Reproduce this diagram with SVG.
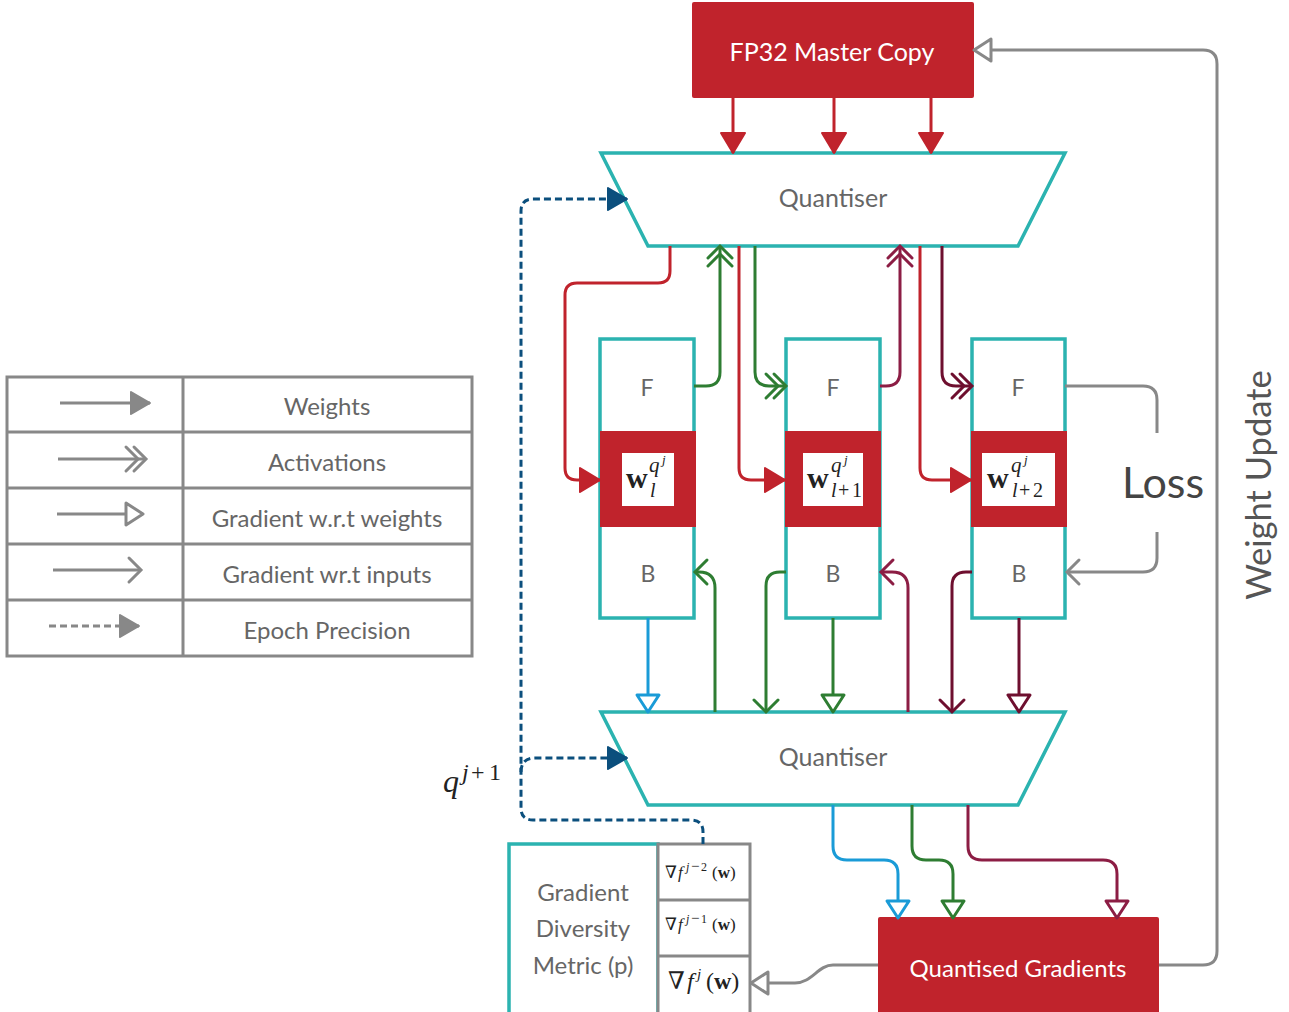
<svg xmlns="http://www.w3.org/2000/svg" width="1289" height="1012" viewBox="0 0 1289 1012">
<style>
.c{fill:none;stroke-width:3;stroke-linecap:butt;stroke-linejoin:round}
.red{stroke:#c0232c}.green{stroke:#2e7d32}.mar{stroke:#8c1d44}.dmar{stroke:#6e0f2f}.blue{stroke:#1a9bd7}.navy{stroke:#0b4f7d}.gray{stroke:#888}
.dash{stroke-dasharray:7 4}
.teal{fill:#fff;stroke:#2bb3b0;stroke-width:3.5}
.rbox{fill:#c0232c}
.t{font-family:Lato,'Liberation Sans',sans-serif;fill:#666;text-anchor:middle}
.w{fill:#fff}
.m{font-family:'Liberation Serif','DejaVu Serif',serif;fill:#222}
.i{font-style:italic}
.b{font-weight:bold}
.cell{fill:#fff;stroke:#888;stroke-width:3}
</style>
<defs>
<marker id="ft-red" viewBox="-22 -14 24 28" markerWidth="24" markerHeight="28" refX="0" refY="0" orient="auto" markerUnits="userSpaceOnUse" overflow="visible"><path d="M-20,-12 L0,0 L-20,12 z" fill="#c0232c" stroke="#c0232c" stroke-width="2" stroke-linejoin="round"/></marker>
<marker id="ft-navy" viewBox="-22 -14 24 28" markerWidth="24" markerHeight="28" refX="0" refY="0" orient="auto" markerUnits="userSpaceOnUse" overflow="visible"><path d="M-19,-11 L0,0 L-19,11 z" fill="#0b4f7d" stroke="#0b4f7d" stroke-width="2" stroke-linejoin="round"/></marker>
<marker id="ft-gray" viewBox="-22 -14 24 28" markerWidth="24" markerHeight="28" refX="0" refY="0" orient="auto" markerUnits="userSpaceOnUse" overflow="visible"><path d="M-19,-11 L0,0 L-19,11 z" fill="#888" stroke="#888" stroke-width="2" stroke-linejoin="round"/></marker>
<marker id="dc-green" viewBox="-24 -14 26 28" markerWidth="26" markerHeight="28" refX="0" refY="0" orient="auto" markerUnits="userSpaceOnUse" overflow="visible"><path d="M-12,-12 L0,0 L-12,12 M-20,-12 L-8,0 L-20,12" fill="none" stroke="#2e7d32" stroke-width="3" stroke-linecap="round"/></marker>
<marker id="dc-mar" viewBox="-24 -14 26 28" markerWidth="26" markerHeight="28" refX="0" refY="0" orient="auto" markerUnits="userSpaceOnUse" overflow="visible"><path d="M-12,-12 L0,0 L-12,12 M-20,-12 L-8,0 L-20,12" fill="none" stroke="#8c1d44" stroke-width="3" stroke-linecap="round"/></marker>
<marker id="dc-dmar" viewBox="-24 -14 26 28" markerWidth="26" markerHeight="28" refX="0" refY="0" orient="auto" markerUnits="userSpaceOnUse" overflow="visible"><path d="M-12,-12 L0,0 L-12,12 M-20,-12 L-8,0 L-20,12" fill="none" stroke="#6e0f2f" stroke-width="3" stroke-linecap="round"/></marker>
<marker id="dc-gray" viewBox="-24 -14 26 28" markerWidth="26" markerHeight="28" refX="0" refY="0" orient="auto" markerUnits="userSpaceOnUse" overflow="visible"><path d="M-12,-12 L0,0 L-12,12 M-20,-12 L-8,0 L-20,12" fill="none" stroke="#888" stroke-width="3" stroke-linecap="round"/></marker>
<marker id="ot-blue" viewBox="-20 -13 22 26" markerWidth="22" markerHeight="26" refX="0" refY="0" orient="auto" markerUnits="userSpaceOnUse" overflow="visible"><path d="M-17,-11 L0,0 L-17,11 z" fill="#fff" stroke="#1a9bd7" stroke-width="3" stroke-linejoin="round"/></marker>
<marker id="ot-green" viewBox="-20 -13 22 26" markerWidth="22" markerHeight="26" refX="0" refY="0" orient="auto" markerUnits="userSpaceOnUse" overflow="visible"><path d="M-17,-11 L0,0 L-17,11 z" fill="#fff" stroke="#2e7d32" stroke-width="3" stroke-linejoin="round"/></marker>
<marker id="ot-mar" viewBox="-20 -13 22 26" markerWidth="22" markerHeight="26" refX="0" refY="0" orient="auto" markerUnits="userSpaceOnUse" overflow="visible"><path d="M-17,-11 L0,0 L-17,11 z" fill="#fff" stroke="#8c1d44" stroke-width="3" stroke-linejoin="round"/></marker>
<marker id="ot-dmar" viewBox="-20 -13 22 26" markerWidth="22" markerHeight="26" refX="0" refY="0" orient="auto" markerUnits="userSpaceOnUse" overflow="visible"><path d="M-17,-11 L0,0 L-17,11 z" fill="#fff" stroke="#6e0f2f" stroke-width="3" stroke-linejoin="round"/></marker>
<marker id="ot-gray" viewBox="-20 -13 22 26" markerWidth="22" markerHeight="26" refX="0" refY="0" orient="auto" markerUnits="userSpaceOnUse" overflow="visible"><path d="M-17,-11 L0,0 L-17,11 z" fill="#fff" stroke="#888" stroke-width="3" stroke-linejoin="round"/></marker>
<marker id="ch-green" viewBox="-15 -15 17 30" markerWidth="17" markerHeight="30" refX="0" refY="0" orient="auto" markerUnits="userSpaceOnUse" overflow="visible"><path d="M-12,-12 L0,0 L-12,12" fill="none" stroke="#2e7d32" stroke-width="3" stroke-linecap="round"/></marker>
<marker id="ch-mar" viewBox="-15 -15 17 30" markerWidth="17" markerHeight="30" refX="0" refY="0" orient="auto" markerUnits="userSpaceOnUse" overflow="visible"><path d="M-12,-12 L0,0 L-12,12" fill="none" stroke="#8c1d44" stroke-width="3" stroke-linecap="round"/></marker>
<marker id="ch-dmar" viewBox="-15 -15 17 30" markerWidth="17" markerHeight="30" refX="0" refY="0" orient="auto" markerUnits="userSpaceOnUse" overflow="visible"><path d="M-12,-12 L0,0 L-12,12" fill="none" stroke="#6e0f2f" stroke-width="3" stroke-linecap="round"/></marker>
<marker id="ch-gray" viewBox="-15 -15 17 30" markerWidth="17" markerHeight="30" refX="0" refY="0" orient="auto" markerUnits="userSpaceOnUse" overflow="visible"><path d="M-12,-12 L0,0 L-12,12" fill="none" stroke="#888" stroke-width="3" stroke-linecap="round"/></marker>
</defs>
<rect width="1289" height="1012" fill="#fff"/>

<g id="legend">
<rect x="7" y="377" width="465" height="279" fill="#fff" stroke="#888" stroke-width="3"/>
<path d="M183,377 V656 M7,432 H472 M7,488 H472 M7,544 H472 M7,600 H472" stroke="#888" stroke-width="3" fill="none"/>
<path class="c gray" d="M60,403 H150" marker-end="url(#ft-gray)"/>
<path class="c gray" d="M58,459 H146" marker-end="url(#dc-gray)"/>
<path class="c gray" d="M57,514 H143" marker-end="url(#ot-gray)"/>
<path class="c gray" d="M53,570 H141" marker-end="url(#ch-gray)"/>
<path class="c gray dash" d="M49,626 H139" marker-end="url(#ft-gray)"/>
<g class="t" font-size="24" fill="#5a5a5a">
<text x="327" y="415">Weights</text>
<text x="327" y="471">Activations</text>
<text x="327" y="527">Gradient w.r.t weights</text>
<text x="327" y="583">Gradient wr.t inputs</text>
<text x="327" y="639">Epoch Precision</text>
</g>
</g>

<g id="fp32">
<rect class="rbox" x="692" y="2" width="282" height="96" rx="2"/>
<text class="t w" x="832" y="61" font-size="25">FP32 Master Copy</text>
</g>

<g id="quantiser-top">
<polygon class="teal" points="601,153 1065,153 1018,246 648,246"/>
<text class="t" x="833" y="207" font-size="25">Quantiser</text>
</g>

<g id="quantiser-bottom">
<polygon class="teal" points="601,712 1065,712 1018,805 648,805"/>
<text class="t" x="833" y="766" font-size="25">Quantiser</text>
</g>

<g id="layer1">
<rect class="teal" x="600" y="339" width="94" height="279"/>
<text class="t" x="647" y="396" font-size="23">F</text>
<text class="t" x="648" y="582" font-size="23">B</text>
<rect class="rbox" x="600" y="431" width="96" height="96"/>
<rect fill="#fff" x="622" y="453" width="52" height="53"/>
<text class="m b" font-size="30" x="626" y="488">w</text>
<text class="m i" font-size="21" x="649" y="472">q</text>
<text class="m i" font-size="13" x="662" y="464">j</text>
<text class="m i" font-size="20" x="650" y="497">l</text>
</g>

<g id="layer2">
<rect class="teal" x="786" y="339" width="94" height="279"/>
<text class="t" x="833" y="396" font-size="23">F</text>
<text class="t" x="833" y="582" font-size="23">B</text>
<rect class="rbox" x="785" y="431" width="96" height="96"/>
<rect fill="#fff" x="803" y="453" width="60" height="53"/>
<text class="m b" font-size="30" x="807" y="488">w</text>
<text class="m i" font-size="21" x="831" y="472">q</text>
<text class="m i" font-size="13" x="844" y="464">j</text>
<text class="m" font-size="20" y="497"><tspan class="i" x="831">l</tspan><tspan x="838">+</tspan><tspan x="852">1</tspan></text>
</g>

<g id="layer3">
<rect class="teal" x="972" y="339" width="93" height="279"/>
<text class="t" x="1018" y="396" font-size="23">F</text>
<text class="t" x="1019" y="582" font-size="23">B</text>
<rect class="rbox" x="971" y="431" width="96" height="96"/>
<rect fill="#fff" x="982" y="453" width="73" height="53"/>
<text class="m b" font-size="30" x="987" y="488">w</text>
<text class="m i" font-size="21" x="1011" y="472">q</text>
<text class="m i" font-size="13" x="1024" y="464">j</text>
<text class="m" font-size="20" y="497"><tspan class="i" x="1012">l</tspan><tspan x="1019">+</tspan><tspan x="1033">2</tspan></text>
</g>

<g id="loss">
<text x="1163" y="498" font-family="Lato,'Liberation Sans',sans-serif" font-size="43" fill="#444" text-anchor="middle">Loss</text>
</g>

<g id="weight-update-label">
<text transform="translate(1271,485) rotate(-90)" font-family="Lato,'Liberation Sans',sans-serif" font-size="34.5" fill="#555" text-anchor="middle">Weight Update</text>
</g>

<g id="quantised-gradients">
<rect class="rbox" x="878" y="917" width="281" height="100" rx="2"/>
<text class="t w" x="1018" y="977" font-size="24">Quantised Gradients</text>
</g>

<g id="gradient-diversity">
<rect x="509" y="844" width="149" height="172" fill="#fff" stroke="#2bb3b0" stroke-width="3.5"/>
<g class="t" font-size="24" fill="#666">
<text x="583" y="901">Gradient</text>
<text x="583" y="937">Diversity</text>
<text x="583" y="974">Metric (p)</text>
</g>
</g>

<g id="gradient-history">
<rect class="cell" x="658" y="844" width="92" height="172"/>
<path d="M658,900 H750 M658,956 H750" stroke="#888" stroke-width="3"/>
<text class="m" font-size="17"><tspan x="665" y="878">∇</tspan><tspan class="i" x="678" y="878">f</tspan><tspan class="i" font-size="12" x="686" y="871">j</tspan><tspan font-size="15" x="691" y="871">−</tspan><tspan font-size="12" x="701" y="871">2</tspan><tspan x="712" y="878">(</tspan><tspan class="b">w</tspan><tspan>)</tspan></text>
<text class="m" font-size="17"><tspan x="665" y="930">∇</tspan><tspan class="i" x="678" y="930">f</tspan><tspan class="i" font-size="12" x="686" y="923">j</tspan><tspan font-size="15" x="691" y="923">−</tspan><tspan font-size="12" x="701" y="923">1</tspan><tspan x="712" y="930">(</tspan><tspan class="b">w</tspan><tspan>)</tspan></text>
<text class="m" font-size="24"><tspan x="668" y="989">∇</tspan><tspan class="i" x="687" y="989">f</tspan><tspan class="i" font-size="15" x="697" y="979">j</tspan><tspan x="706" y="989">(</tspan><tspan class="b">w</tspan><tspan>)</tspan></text>
</g>

<g id="q-label">
<text class="m i" x="443" y="792" font-size="32">q</text>
<text class="m" font-size="24" y="780"><tspan class="i" x="462">j</tspan><tspan x="471">+</tspan><tspan x="489">1</tspan></text>
</g>

<g id="connectors">
<path class="c red" d="M733,98 V153" marker-end="url(#ft-red)"/>
<path class="c red" d="M834,98 V153" marker-end="url(#ft-red)"/>
<path class="c red" d="M931,98 V153" marker-end="url(#ft-red)"/>
<path class="c red" d="M670,246 V271 Q670,283 658,283 H577 Q565,283 565,295 V468 Q565,480 577,480 H600" marker-end="url(#ft-red)"/>
<path class="c red" d="M739,246 V468 Q739,480 751,480 H785" marker-end="url(#ft-red)"/>
<path class="c red" d="M920,246 V468 Q920,480 932,480 H971" marker-end="url(#ft-red)"/>
<path class="c green" d="M694,386 H706 Q720,386 720,372 V246" marker-end="url(#dc-green)"/>
<path class="c green" d="M755,246 V372 Q755,386 769,386 H786" marker-end="url(#dc-green)"/>
<path class="c mar" d="M880,386 H886 Q900,386 900,372 V246" marker-end="url(#dc-mar)"/>
<path class="c dmar" d="M942,246 V372 Q942,386 956,386 H972" marker-end="url(#dc-dmar)"/>
<path class="c gray" d="M1065,386 H1143 Q1157,386 1157,400 V433"/>
<path class="c gray" d="M1157,532 V558 Q1157,572 1143,572 H1067" marker-end="url(#ch-gray)"/>
<path class="c blue" d="M648,618 V712" marker-end="url(#ot-blue)"/>
<path class="c green" d="M715,712 V588 Q715,572 699,572 H695" marker-end="url(#ch-green)"/>
<path class="c green" d="M786,572 H780 Q766,572 766,586 V712" marker-end="url(#ch-green)"/>
<path class="c green" d="M833,618 V712" marker-end="url(#ot-green)"/>
<path class="c mar" d="M908,712 V588 Q908,572 892,572 H881" marker-end="url(#ch-mar)"/>
<path class="c dmar" d="M972,572 H966 Q952,572 952,586 V712" marker-end="url(#ch-dmar)"/>
<path class="c dmar" d="M1019,618 V712" marker-end="url(#ot-dmar)"/>
<path class="c blue" d="M833,805 V846 Q833,860 847,860 H884 Q898,860 898,874 V918" marker-end="url(#ot-blue)"/>
<path class="c green" d="M912,805 V846 Q912,860 926,860 H939 Q953,860 953,874 V918" marker-end="url(#ot-green)"/>
<path class="c mar" d="M968,805 V846 Q968,860 982,860 H1103 Q1117,860 1117,874 V918" marker-end="url(#ot-mar)"/>
<path class="c gray" d="M1159,965 H1203 Q1217,965 1217,951 V64 Q1217,50 1203,50 H974" marker-end="url(#ot-gray)"/>
<path class="c gray" d="M878,965 H833 C818,965 812,983 795,983 H751" marker-end="url(#ot-gray)"/>
<path class="c navy dash" d="M703,844 V832 Q703,820 691,820 H533 Q521,820 521,808 V211 Q521,199 533,199 H627" marker-end="url(#ft-navy)"/>
<path class="c navy dash" d="M521,772 Q521,758 535,758 H627" marker-end="url(#ft-navy)"/>
</g>
</svg>
